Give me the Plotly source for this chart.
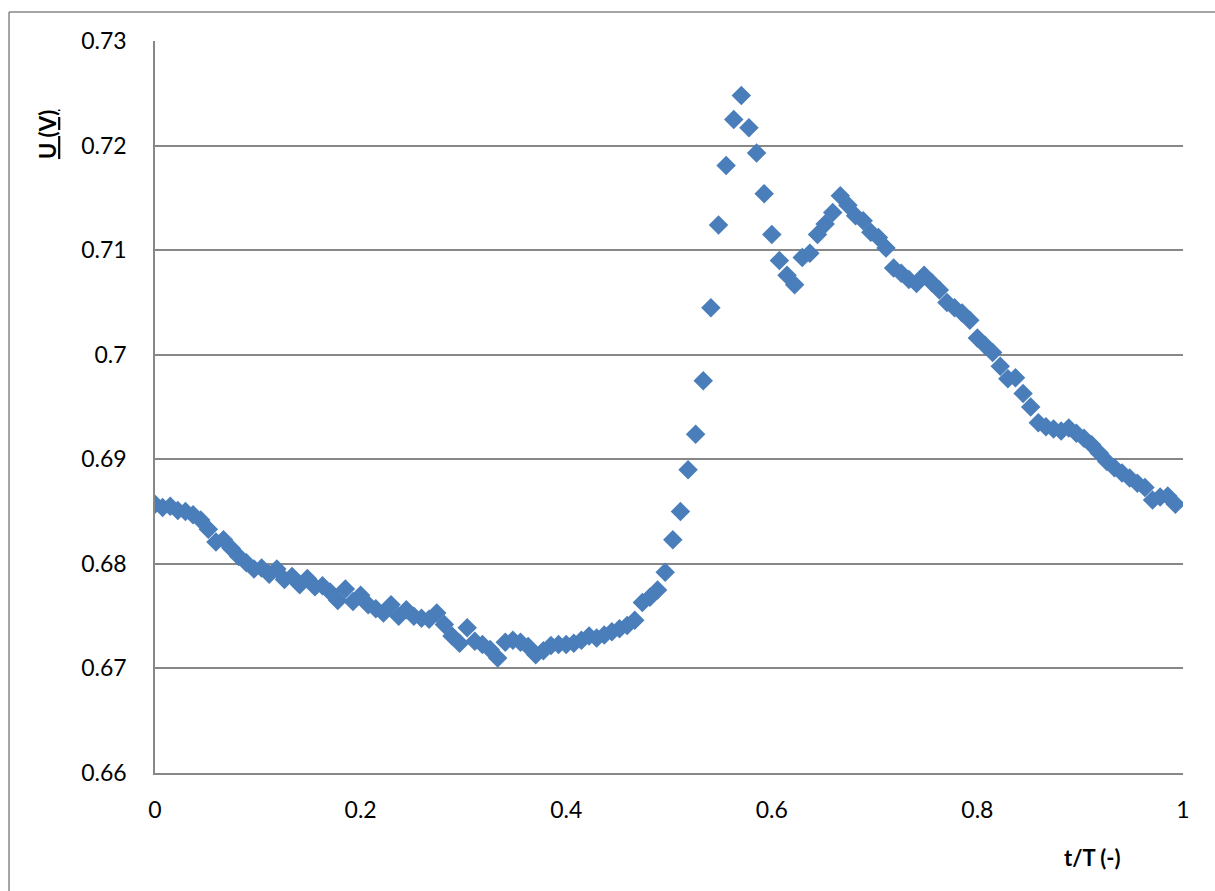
import plotly.graph_objects as go

# t/T sample positions (135 samples, step 1/135)
n_points = 135
t_over_T = [i / n_points for i in range(n_points)]

# Measured voltage U (V)
U_volts = [
    0.6857, 0.6854, 0.6855, 0.6851, 0.6850, 0.6847, 0.6842, 0.6833, 0.6821, 0.6823,
    0.6815, 0.6807, 0.6801, 0.6795, 0.6796, 0.6790, 0.6795, 0.6785, 0.6788, 0.6780,
    0.6786, 0.6778, 0.6779, 0.6773, 0.6765, 0.6776, 0.6764, 0.6770, 0.6761, 0.6757,
    0.6753, 0.6761, 0.6750, 0.6756, 0.6750, 0.6748, 0.6747, 0.6753, 0.6742, 0.6731,
    0.6724, 0.6739, 0.6726, 0.6723, 0.6718, 0.6710, 0.6725, 0.6727, 0.6725, 0.6721,
    0.6713, 0.6717, 0.6722, 0.6723, 0.6723, 0.6724, 0.6727, 0.6731, 0.6729, 0.6732,
    0.6735, 0.6738, 0.6741, 0.6746, 0.6763, 0.6768, 0.6775, 0.6792, 0.6823, 0.6850,
    0.6890, 0.6924, 0.6975, 0.7045, 0.7124, 0.7181, 0.7225, 0.7248, 0.7217, 0.7193,
    0.7154, 0.7115, 0.7090, 0.7076, 0.7067, 0.7093, 0.7097, 0.7115, 0.7125, 0.7136,
    0.7152, 0.7143, 0.7133, 0.7128, 0.7117, 0.7112, 0.7102, 0.7083, 0.7078, 0.7072,
    0.7068, 0.7076, 0.7069, 0.7062, 0.7050, 0.7045, 0.7040, 0.7033, 0.7016, 0.7009,
    0.7002, 0.6989, 0.6977, 0.6978, 0.6963, 0.6950, 0.6935, 0.6931, 0.6929, 0.6927,
    0.6930, 0.6925, 0.6920, 0.6914, 0.6906, 0.6898, 0.6892, 0.6887, 0.6882, 0.6877,
    0.6873, 0.6861, 0.6864, 0.6865, 0.6857,
]

x_ticks = [0, 0.2, 0.4, 0.6, 0.8, 1]
x_tick_labels = ["0", "0.2", "0.4", "0.6", "0.8", "1"]
y_ticks = [0.66, 0.67, 0.68, 0.69, 0.70, 0.71, 0.72, 0.73]
y_tick_labels = ["0.66", "0.67", "0.68", "0.69", "0.7", "0.71", "0.72", "0.73"]

FONT = "Lato, 'Open Sans', sans-serif"
GRID = "#878787"

fig = go.Figure()
fig.add_trace(go.Scatter(
    x=t_over_T, y=U_volts, mode="markers",
    marker=dict(symbol="diamond", size=15, color="#4A7EBB", line=dict(width=0)),
    showlegend=False,
))

fig.update_layout(
    width=1215, height=891,
    margin=dict(l=155, r=32, t=41, b=118),
    paper_bgcolor="white", plot_bgcolor="white",
    font=dict(family=FONT, size=23, color="black"),
    xaxis=dict(
        range=[0, 1], tickvals=x_ticks, ticktext=x_tick_labels,
        showgrid=False, zeroline=False,
        showline=True, linecolor=GRID, linewidth=1.5,
        ticks="", ticklabelstandoff=16,
    ),
    yaxis=dict(
        range=[0.66, 0.73], tickvals=y_ticks, ticktext=y_tick_labels,
        showgrid=True, gridcolor=GRID, gridwidth=1.5, zeroline=False,
        showline=True, linecolor=GRID, linewidth=1.5,
        ticks="", ticklabelstandoff=22,
    ),
    annotations=[
        dict(text="<b><u>U (V)</u></b>", xref="paper", yref="paper",
             x=-0.104, y=0.8716, xanchor="center", yanchor="middle",
             textangle=-90, showarrow=False, font=dict(family=FONT, size=22)),
        dict(text="<b>t/T (-)</b>", xref="paper", yref="paper",
             x=0.9115, y=-0.1148, xanchor="center", yanchor="middle",
             showarrow=False, font=dict(family=FONT, size=22)),
    ],
    shapes=[
        # chart-area frame (left and top edges are visible in the reference)
        dict(type="line", xref="paper", yref="paper",
             x0=-0.142, x1=-0.142, y0=-0.2, y1=1.0396,
             line=dict(color=GRID, width=1.5), layer="below"),
        dict(type="line", xref="paper", yref="paper",
             x0=-0.142, x1=1.1, y0=1.0396, y1=1.0396,
             line=dict(color=GRID, width=1.5), layer="below"),
    ],
)

fig.write_html(
    "out.html",
    config={"displayModeBar": False},
    post_script="document.body.style.margin='0';document.body.style.overflow='hidden';",
)
